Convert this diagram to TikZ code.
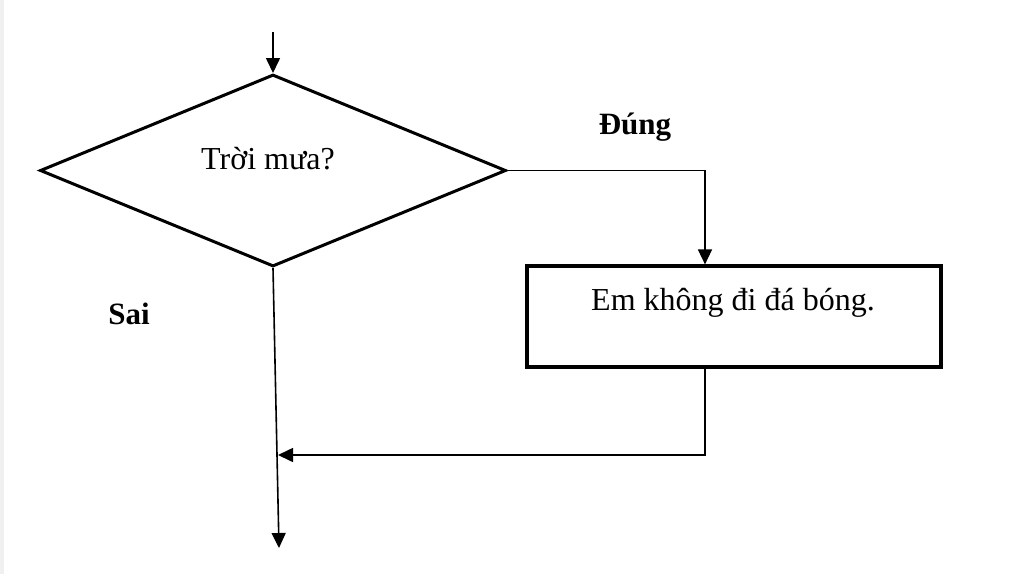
\documentclass[tikz,border=0pt]{standalone}
\usepackage{fontspec}
\setmainfont{Liberation Serif}
\usetikzlibrary{shapes.geometric,arrows.meta}
\begin{document}
\begin{tikzpicture}[x=0.5pt,y=-0.5pt,
  arr/.style={-{Triangle[length=7.5pt,width=7pt]}, line width=0.8pt},
  txt/.style={font=\fontsize{16}{18}\selectfont, inner sep=0pt},
  lbl/.style={font=\fontsize{15.5}{18}\selectfont\bfseries, inner sep=0pt}]
\useasboundingbox (0,0) rectangle (1024,574);
\fill[gray!12] (0,0) rectangle (4,574);
% shapes
\node[diamond, draw, line width=1.5pt, minimum width=233pt, minimum height=96pt, inner sep=0pt] (d) at (273,170.5) {};
\node[txt] (dt) at (268,159) {Trời mưa?};
\node[rectangle, draw, line width=1.6pt, minimum width=207pt, minimum height=50.5pt, inner sep=0pt] (box) at (734,316.5) {};
\node[txt] (bt) at (733,302.5) {Em không đi đá bóng.};
\node[lbl] (yes) at (635,127.5) {Đúng};
\node[lbl] (no) at (129,314) {Sai};
% coordinates
\coordinate (start) at (273,32);
\coordinate (j) at (705,170.5);
\coordinate (m) at (278,455);
\coordinate (e) at (279,548);
% connectors
\draw[arr] (start) -- (d.north);
\draw[arr] (d.east) -- (j) -- (j |- box.north);
\draw[arr] (d.south) -- (e);
\draw[arr] (box.south -| j) -- (j |- m) -- (m);
\end{tikzpicture}
\end{document}
